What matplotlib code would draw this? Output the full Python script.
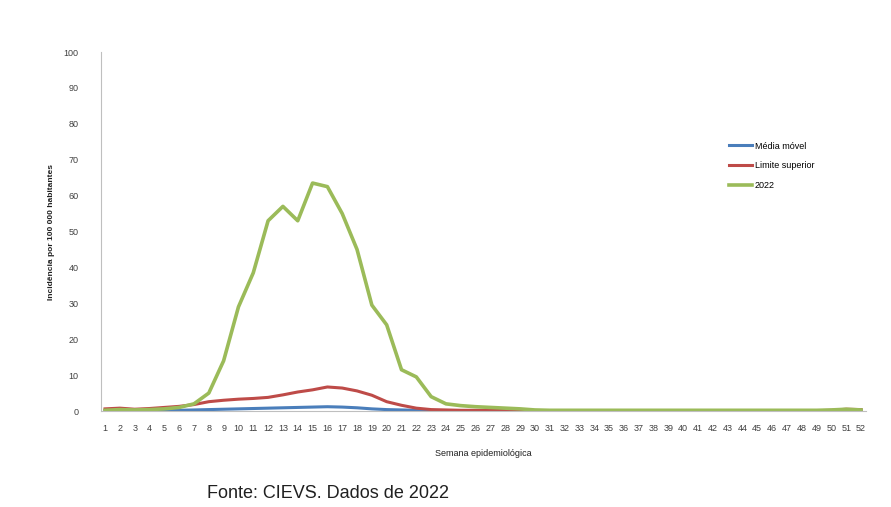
import matplotlib.pyplot as plt
import numpy as np

weeks = np.arange(1, 53)

media_movel = [0.1, 0.2, 0.1, 0.1, 0.2, 0.2, 0.3, 0.4, 0.5, 0.6, 0.7, 0.8, 0.9, 1.0, 1.1, 1.2,
               1.1, 0.9, 0.6, 0.4, 0.3, 0.2, 0.1, 0.1, 0.1, 0.1, 0.1, 0.1, 0.1, 0.1, 0.1, 0.1,
               0.1, 0.1, 0.1, 0.1, 0.1, 0.1, 0.1, 0.1, 0.1, 0.1, 0.1, 0.1, 0.1, 0.1, 0.1, 0.1,
               0.1, 0.1, 0.2, 0.2]
limite_superior = [0.6, 0.8, 0.5, 0.7, 1.0, 1.3, 1.8, 2.6, 3.0, 3.3, 3.5, 3.8, 4.5, 5.3, 5.9, 6.7,
                   6.4, 5.6, 4.4, 2.6, 1.6, 0.8, 0.4, 0.3, 0.2, 0.2, 0.2, 0.1, 0.1, 0.1, 0.1, 0.1,
                   0.1, 0.1, 0.1, 0.1, 0.1, 0.1, 0.1, 0.1, 0.1, 0.1, 0.1, 0.1, 0.1, 0.1, 0.1, 0.1,
                   0.1, 0.2, 0.5, 0.4]
ano_2022 = [0.2, 0.4, 0.3, 0.4, 0.6, 1.0, 2.0, 5.0, 14.0, 29.0, 38.5, 53.0, 57.0, 53.0, 63.5, 62.5,
            55.0, 45.0, 29.5, 24.0, 11.5, 9.5, 4.0, 2.0, 1.5, 1.2, 1.0, 0.8, 0.6, 0.3, 0.2, 0.2,
            0.2, 0.2, 0.2, 0.2, 0.2, 0.2, 0.2, 0.2, 0.2, 0.2, 0.2, 0.2, 0.2, 0.2, 0.2, 0.2,
            0.2, 0.3, 0.5, 0.3]

plt.rcParams['font.family'] = ['Liberation Sans', 'DejaVu Sans']

fig = plt.figure(figsize=(8.91, 5.07), dpi=100)
ax = fig.add_axes([0.1134, 0.1893, 0.8586, 0.7081])

ax.plot(weeks, media_movel, color='#4a7ebb', lw=2.2, label='Média móvel')
ax.plot(weeks, limite_superior, color='#be4b48', lw=2.2, label='Limite superior')
ax.plot(weeks, ano_2022, color='#9bbb59', lw=2.6, label='2022')

ax.set_xlim(0.73, 52.34)
ax.set_ylim(0, 100)
ax.set_yticks(np.arange(0, 101, 10))
ax.set_xticks(weeks)
ax.tick_params(axis='both', labelsize=6.5, length=0, colors='#404040')
ax.tick_params(axis='y', pad=16)
ax.tick_params(axis='x', pad=9)
for s in ['top', 'right']:
    ax.spines[s].set_visible(False)
for s in ['left', 'bottom']:
    ax.spines[s].set_color('#bfbfbf')

ax.set_xlabel('Semana epidemiológica', fontsize=6.5, color='#202020', labelpad=12)
ax.set_ylabel('Incidência por 100 000 habitantes', fontsize=6, fontweight='bold',
              color='#202020', labelpad=6)

ax.legend(loc='upper left', bbox_to_anchor=(0.81, 0.773), frameon=False, fontsize=6.5,
          handlelength=2.6, handletextpad=0.3, labelspacing=1.2)

fig.text(0.232, 0.018, 'Fonte: CIEVS. Dados de 2022', fontsize=13, color='#202020')

fig.savefig('out.png', dpi=100)
